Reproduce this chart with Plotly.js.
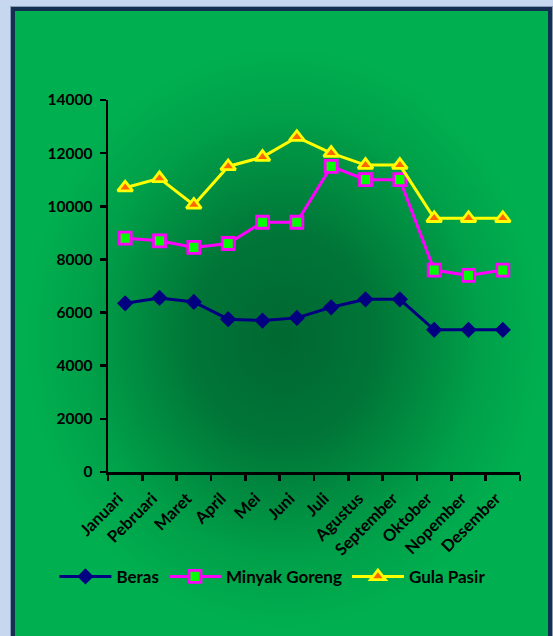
<!DOCTYPE html>
<html>
<head>
<meta charset="utf-8">
<script src="https://cdn.plot.ly/plotly-3.0.1.min.js"></script>
<style>
  html, body { margin: 0; padding: 0; background: #c6d7ef; }
  #wrap { position: relative; width: 553px; height: 636px; overflow: hidden; }
  #bg { position: absolute; left: 0; top: 0; }
  #chart { position: absolute; left: 0; top: 0; width: 553px; height: 636px; }
</style>
</head>
<body>
<div id="wrap">
  <!-- chart frame; green fill darkening towards the middle of the plot -->
  <svg id="bg" width="553" height="636" xmlns="http://www.w3.org/2000/svg">
    <defs>
      <radialGradient id="gCentre" gradientUnits="userSpaceOnUse" cx="0" cy="0" r="1"
                      gradientTransform="translate(284 338) scale(262 295)">
        <stop offset="0" stop-color="#006832"/>
        <stop offset="0.35" stop-color="#007537"/>
        <stop offset="0.75" stop-color="#00a049"/>
        <stop offset="1" stop-color="#00b050"/>
      </radialGradient>
      <clipPath id="inner"><rect x="15" y="11" width="533" height="640"/></clipPath>
    </defs>
    <rect x="0" y="0" width="553" height="636" fill="#c6d7ef"/>
    <rect x="10" y="6" width="543" height="650" fill="#8a9bb4"/>
    <rect x="11" y="7" width="541" height="650" fill="#132f52"/>
    <g clip-path="url(#inner)">
      <rect x="15" y="11" width="533" height="640" fill="url(#gCentre)"/>
    </g>
  </svg>
  <div id="chart"></div>
</div>
<script>
// Monthly prices (Rp) of three staple goods
const months = ["Januari", "Pebruari", "Maret", "April", "Mei", "Juni",
                "Juli", "Agustus", "September", "Oktober", "Nopember", "Desember"];
const beras        = [6350, 6550, 6400, 5750, 5700, 5800, 6200, 6500, 6500, 5350, 5350, 5350];
const minyakGoreng = [8800, 8700, 8450, 8600, 9400, 9400, 11500, 11000, 11000, 7600, 7400, 7600];
const gulaPasir    = [10700, 11050, 10050, 11500, 11850, 12600, 12000, 11550, 11550, 9550, 9550, 9550];
const yTicks = [0, 2000, 4000, 6000, 8000, 10000, 12000, 14000];

const fontFamily = "Lato, 'Open Sans', sans-serif";

const traces = [
  {
    name: "Beras", x: months, y: beras, type: "scatter", mode: "lines+markers",
    line: { color: "#000080", width: 3 },
    marker: { symbol: "diamond", size: 12.5, color: "#000080", line: { color: "#000080", width: 0 } }
  },
  {
    name: "Minyak Goreng", x: months, y: minyakGoreng, type: "scatter", mode: "lines+markers",
    line: { color: "#ff00ff", width: 3 },
    marker: { symbol: "square", size: 12, color: "#00ff00", line: { color: "#ff00ff", width: 2.8 } }
  },
  {
    name: "Gula Pasir", x: months, y: gulaPasir, type: "scatter", mode: "lines+markers",
    line: { color: "#ffff00", width: 3 },
    marker: { symbol: "triangle-up", size: 13, color: "#ff6600", line: { color: "#ffff00", width: 2.8 } }
  }
];

const layout = {
  width: 553, height: 636,
  margin: { l: 108, r: 33, t: 100, b: 164, autoexpand: false },
  paper_bgcolor: "rgba(0,0,0,0)",
  plot_bgcolor: "rgba(0,0,0,0)",
  font: { family: fontFamily, color: "#000000", size: 15, weight: 700 },
  showlegend: true,
  legend: {
    orientation: "h",
    x: -0.13, xanchor: "left",
    y: -0.282, yanchor: "middle",
    font: { family: fontFamily, size: 17, weight: 700, color: "#000000" },
    bgcolor: "rgba(0,0,0,0)",
    itemwidth: 52,
    tracegroupgap: 0
  },
  xaxis: {
    type: "category",
    categoryorder: "array", categoryarray: months,
    range: [-0.5, 11.5],
    tickson: "boundaries",
    ticks: "outside", ticklen: 6, tickwidth: 2.5, tickcolor: "#000000",
    showline: true, linecolor: "#000000", linewidth: 2.5,
    showgrid: false, zeroline: false,
    tickangle: -45,
    ticklabelstandoff: 8,
    ticklabelshift: -7,
    tickfont: { family: fontFamily, size: 16.5, weight: 700, color: "#000000" },
    fixedrange: true
  },
  yaxis: {
    range: [0, 14000],
    tickvals: yTicks,
    ticktext: yTicks.map(String),
    ticks: "outside", ticklen: 6, tickwidth: 2.5, tickcolor: "#000000",
    showline: true, linecolor: "#000000", linewidth: 2.5,
    showgrid: false, zeroline: false,
    ticklabelstandoff: 4,
    tickfont: { family: fontFamily, size: 15.5, weight: 700, color: "#000000" },
    fixedrange: true
  }
};

Plotly.newPlot("chart", traces, layout, { displayModeBar: false, staticPlot: true });
</script>
</body>
</html>
